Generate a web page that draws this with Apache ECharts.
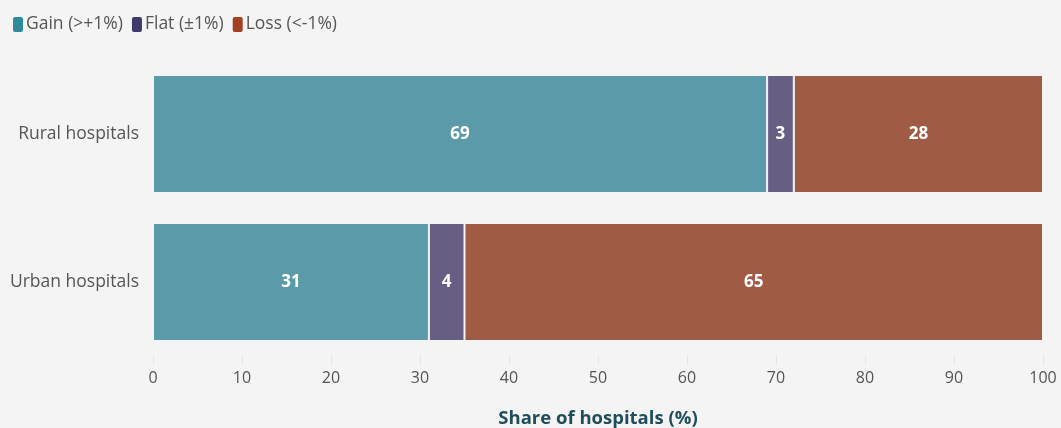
<!DOCTYPE html>
<html>
<head>
<meta charset="utf-8">
<script src="https://cdn.jsdelivr.net/npm/echarts@6/dist/echarts.min.js"></script>
<style>
  html, body { margin: 0; padding: 0; background: #f4f4f4; }
  #chart { width: 1061px; height: 428px; }
</style>
</head>
<body>
<div id="chart"></div>
<script>
const categories = ['Rural hospitals', 'Urban hospitals'];
const gain = [69, 31];
const flat = [3, 4];
const loss = [28, 65];
const xTicks = [0, 10, 20, 30, 40, 50, 60, 70, 80, 90, 100];

const FONT = '"Open Sans", Roboto, sans-serif';

function seg(name, data, barColor, legendColor) {
  return {
    name: name,
    type: 'bar',
    stack: 'share',
    data: data,
    barWidth: 118,
    itemStyle: { color: barColor, borderColor: '#f4f4f4', borderWidth: 1 },
    label: {
      show: true,
      position: 'inside',
      color: '#ffffff',
      fontFamily: FONT,
      fontWeight: 'bold',
      fontSize: 17
    },
    emphasis: { disabled: true },
    legendColor: legendColor
  };
}

const series = [
  seg('Gain (>+1%)', gain, '#5b9aa9', '#2e8b9a'),
  seg('Flat (±1%)', flat, '#675f83', '#3d3a6b'),
  seg('Loss (<-1%)', loss, '#a05b45', '#a33f22')
];

const chart = echarts.init(document.getElementById('chart'));
chart.setOption({
  backgroundColor: '#f4f4f4',
  animation: false,
  legend: {
    left: 6,
    top: 10,
    itemWidth: 12,
    itemHeight: 17,
    itemGap: 7,
    icon: 'roundRect',
    textStyle: { color: '#555555', fontFamily: FONT, fontSize: 17.5, padding: [0, 0, 0, -3] },
    data: series.map(s => ({ name: s.name, itemStyle: { color: s.legendColor } }))
  },
  grid: { left: 153, right: 18, top: 60, bottom: 72, outerBoundsMode: 'none' },
  xAxis: {
    type: 'value',
    min: 0,
    max: 100,
    interval: 10,
    name: 'Share of hospitals (%)',
    nameLocation: 'middle',
    nameGap: 53,
    nameTextStyle: { color: '#1f4e5a', fontFamily: FONT, fontWeight: 'bold', fontSize: 18.5 },
    axisLine: { show: false },
    axisTick: { show: true, length: 8, lineStyle: { color: '#e4e4e4' } },
    splitLine: { show: false },
    axisLabel: {
      color: '#555555',
      fontFamily: FONT,
      fontSize: 16,
      margin: 14,
      formatter: v => (xTicks.includes(v) ? String(v) : '')
    }
  },
  yAxis: {
    type: 'category',
    inverse: true,
    data: categories,
    axisLine: { show: false },
    axisTick: { show: false },
    axisLabel: { color: '#555555', fontFamily: FONT, fontSize: 17.5, margin: 14 }
  },
  series: series.map(s => { const c = Object.assign({}, s); delete c.legendColor; return c; })
});
</script>
</body>
</html>
